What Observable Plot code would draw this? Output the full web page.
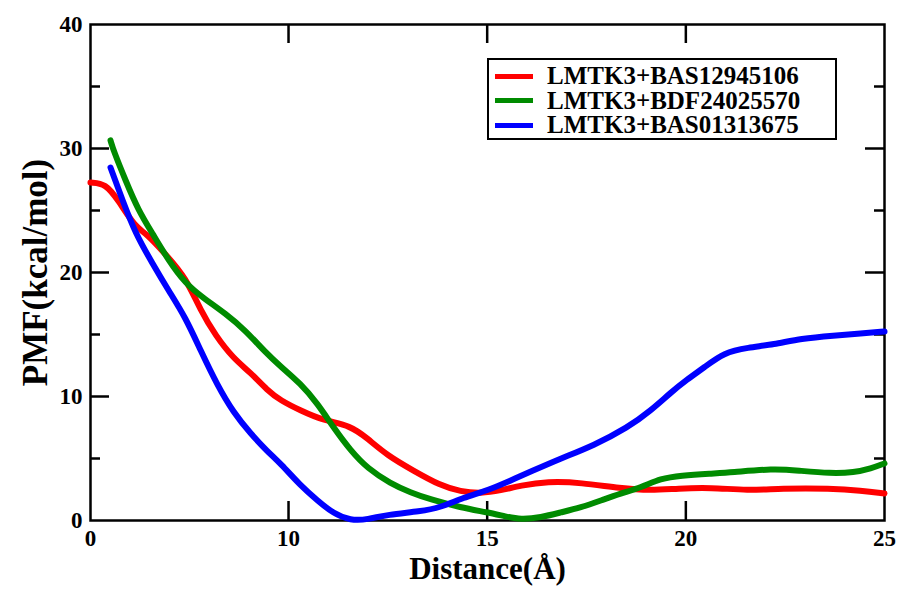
<!DOCTYPE html>
<html>
<head>
<meta charset="utf-8">
<script src="https://cdn.jsdelivr.net/npm/d3@7"></script>
<script src="https://cdn.jsdelivr.net/npm/@observablehq/plot@0.6"></script>
<style>
  html, body { margin: 0; padding: 0; background: #fff; }
  #wrap { position: relative; width: 900px; height: 591px; font-family: "Liberation Serif", "Times New Roman", serif; }
  #legend { position: absolute; left: 487px; top: 58px; width: 346px; height: 78px; border: 2.5px solid #000; background: #fff; }
  .row { position: absolute; left: 0; height: 24px; display: flex; align-items: center; }
  .sw { display: inline-block; width: 38px; height: 5px; margin-left: 6px; margin-right: 14px; }
  .lb { font-weight: bold; font-size: 25px; color: #000; white-space: nowrap; line-height: 24px; }
</style>
</head>
<body>
<div id="wrap"></div>
<script>
// ---- data (x in Å as labelled on the axis, y in kcal/mol) ----
const seriesNames = ["LMTK3+BAS12945106", "LMTK3+BDF24025570", "LMTK3+BAS01313675"];
const seriesColors = ["#ff0000", "#008b00", "#0000ff"];

const redX = [0.00,0.76,1.41,2.27,2.78,3.94,4.80,5.56,6.31,7.22,8.08,8.94,9.60,10.30,10.88,11.56,11.99,12.49,13.14,13.82,14.33,14.84,15.34,15.84,16.52,17.36,18.36,19.12,19.80,20.63,21.56,22.39,23.65,24.41,25.00];
const redY = [27.26,27.18,25.81,23.63,23.23,21.21,19.60,16.94,14.92,13.06,11.94,10.48,9.68,8.87,8.06,7.66,6.61,5.24,4.03,2.82,2.34,2.18,2.42,2.82,3.15,3.06,2.58,2.42,2.58,2.66,2.42,2.58,2.58,2.42,2.18];

const greenX = [1.01,1.16,1.77,2.42,3.13,3.94,4.80,5.66,6.82,7.83,8.84,9.60,10.30,10.73,11.13,11.56,11.99,12.57,13.07,13.58,14.33,15.01,15.47,15.84,16.35,16.85,17.36,17.86,18.36,18.87,19.37,19.87,20.63,21.13,22.21,22.82,23.65,24.23,24.66,25.00];
const greenY = [30.65,29.84,27.42,25.00,23.15,20.97,19.11,17.98,16.69,15.32,13.55,12.42,11.05,9.44,7.50,5.65,4.19,2.98,2.26,1.69,1.05,0.65,0.32,0.08,0.24,0.65,1.05,1.61,2.18,2.66,3.39,3.63,3.79,3.87,4.19,4.03,3.79,3.87,4.19,4.60];

const blueX = [1.01,1.62,2.27,3.13,3.94,4.80,5.56,6.41,7.22,8.08,8.94,9.60,10.30,10.73,11.13,11.56,11.99,12.49,13.32,13.82,14.40,15.01,15.59,16.10,16.85,17.68,18.54,19.12,19.62,20.03,20.46,20.96,21.56,22.21,22.90,23.73,24.41,25.00];
const blueY = [28.47,25.81,23.15,20.73,18.55,16.37,13.71,10.89,8.71,7.02,5.56,4.60,2.82,1.61,0.56,0.00,0.08,0.48,0.73,1.05,1.85,2.42,3.23,3.95,5.00,6.05,7.50,8.87,10.32,11.37,12.34,13.55,13.95,14.19,14.68,14.92,15.08,15.24];

const xTickLabels = [0, 10, 15, 20, 25];
const xInnerTicks = [10, 15, 20];
const yTickLabels = [0, 10, 20, 30, 40];
const yMajorTicks = [10, 20, 30];
const yMinorTicks = [5, 15, 25, 35];
const xTitle = "Distance(Å)";
const yTitle = "PMF(kcal/mol)";

// ---- build table ----
const allX = [redX, greenX, blueX];
const allY = [redY, greenY, blueY];
const rows = [];
seriesNames.forEach((name, s) => {
  allX[s].forEach((x, i) => rows.push({series: name, x, y: allY[s][i]}));
});

const W = 900, H = 591;
const mL = 90, mR = 16, mT = 24, mB = 71;
const innerW = W - mL - mR;
const innerH = H - mT - mB;
const majorLen = 19, minorLen = 10;
const font = "Liberation Serif, Times New Roman, serif";

const chart = Plot.plot({
  width: W,
  height: H,
  marginLeft: mL,
  marginRight: mR,
  marginTop: mT,
  marginBottom: mB,
  style: {fontFamily: font, fontWeight: "bold", color: "#000", background: "#fff"},
  x: {type: "linear", domain: [0, 10, 25], range: [mL, mL + innerW * 0.2494, W - mR]},
  y: {domain: [0, 40]},
  color: {domain: seriesNames, range: seriesColors},
  marks: [
    // labels
    Plot.axisX(xTickLabels, {anchor: "bottom", tickSize: 0, tickPadding: 9, fontSize: 23, label: null, tickFormat: d => String(d)}),
    Plot.axisY(yTickLabels, {anchor: "left", tickSize: 0, tickPadding: 8, fontSize: 23, label: null, tickFormat: d => String(d)}),
    // inward ticks
    Plot.tickX(xInnerTicks, {x: d => d, insetTop: innerH - majorLen, stroke: "#000", strokeWidth: 2.5}),
    Plot.tickX(xInnerTicks, {x: d => d, insetBottom: innerH - majorLen, stroke: "#000", strokeWidth: 2.5}),
    Plot.tickY(yMajorTicks, {y: d => d, insetRight: innerW - majorLen, stroke: "#000", strokeWidth: 2.5}),
    Plot.tickY(yMajorTicks, {y: d => d, insetLeft: innerW - majorLen, stroke: "#000", strokeWidth: 2.5}),
    Plot.tickY(yMinorTicks, {y: d => d, insetRight: innerW - minorLen, stroke: "#000", strokeWidth: 2.5}),
    Plot.tickY(yMinorTicks, {y: d => d, insetLeft: innerW - minorLen, stroke: "#000", strokeWidth: 2.5}),
    Plot.frame({stroke: "#000", strokeWidth: 2.5}),
    // series
    Plot.line(rows, {x: "x", y: "y", z: "series", stroke: "series", strokeWidth: 6, curve: "basis", strokeLinejoin: "round"}),
    // titles
    Plot.text([xTitle], {frameAnchor: "bottom", dy: 58, fontSize: 31, fontWeight: "bold", text: d => d}),
    Plot.text([yTitle], {frameAnchor: "left", dx: -55, rotate: -90, fontSize: 35, fontWeight: "bold", textAnchor: "middle", text: d => d})
  ]
});

const wrap = document.getElementById("wrap");
wrap.appendChild(chart);

// legend
const legend = document.createElement("div");
legend.id = "legend";
seriesNames.forEach((name, i) => {
  const row = document.createElement("div");
  row.className = "row";
  row.style.top = (4 + i * 24.5) + "px";
  const sw = document.createElement("span");
  sw.className = "sw";
  sw.style.background = seriesColors[i];
  const lb = document.createElement("span");
  lb.className = "lb";
  lb.textContent = name;
  row.appendChild(sw);
  row.appendChild(lb);
  legend.appendChild(row);
});
wrap.appendChild(legend);
</script>
</body>
</html>
